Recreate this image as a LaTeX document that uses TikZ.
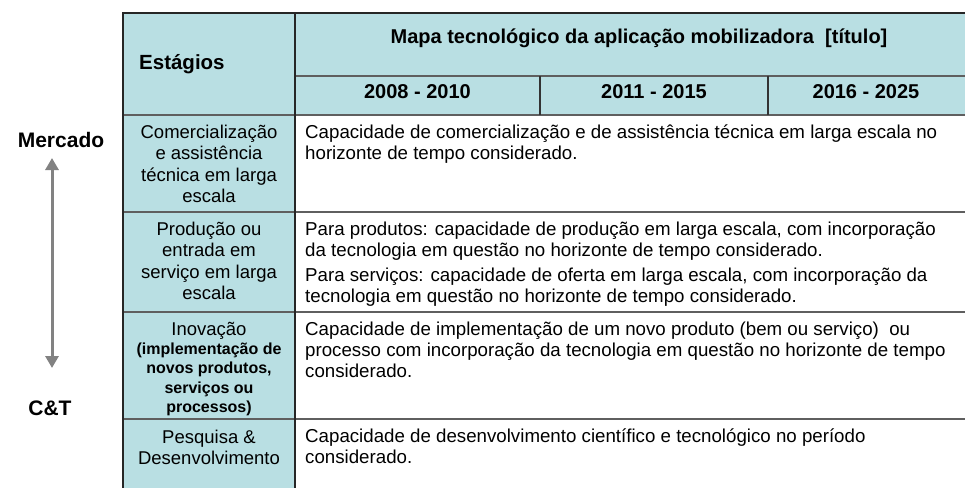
\documentclass[tikz,border=0pt]{standalone}
\usepackage{fontspec}
\setmainfont{Liberation Sans}
\usetikzlibrary{arrows.meta}
\definecolor{stagefill}{RGB}{185,223,227}
\definecolor{rowline}{RGB}{95,95,95}
\definecolor{arrowgray}{RGB}{130,130,130}

\begin{document}
\begin{tikzpicture}[x=1pt,y=-1pt]
    \tikzstyle{every node}=[inner sep=0pt]
    \tikzstyle{head}=[font=\fontsize{20}{24}\selectfont\bfseries, anchor=base]
    \tikzstyle{stage}=[font=\fontsize{18.5}{21.5}\selectfont, align=center, anchor=base]
    \tikzstyle{stage note}=[font=\fontsize{16}{19.3}\selectfont\bfseries, align=center, anchor=base]
    \tikzstyle{body}=[font=\fontsize{18.7}{21}\selectfont, align=left, anchor=base west]
    \tikzstyle{side}=[font=\fontsize{21}{24}\selectfont\bfseries, anchor=base]
    \tikzstyle{rule}=[draw=rowline, line width=1.8pt]
    \tikzstyle{border}=[draw=black!85, line width=1.5pt]

    \useasboundingbox (0,0) rectangle (965,488);

    % Fill the stage column and the header
    \fill[stagefill] (123,13) rectangle (295,488);
    \fill[stagefill] (295,13) rectangle (965,115);

    % Draw the row lines
    \draw[rule] (295,76) -- (965,76);
    \foreach \y in {115,212,312,419}
        \draw[rule] (123,\y) -- (965,\y);

    % Draw the column lines of the periods
    \foreach \x in {540,768}
        \draw[draw=black!80, line width=1.2pt] (\x,76) -- (\x,115);

    % Draw the outer frame
    \draw[border] (965,13) -- (123,13) -- (123,488);
    \draw[border] (295,13) -- (295,488);

    % Header texts
    \node[head, font=\fontsize{20.5}{24}\selectfont\bfseries, anchor=base west] (stages) at (139,69) {Estágios};
    \node[head] (title) at (639,43) {Mapa tecnológico da aplicação mobilizadora~~[título]};
    \foreach \name / \x / \period in {p1/417.5/2008 - 2010, p2/654/2011 - 2015, p3/866/2016 - 2025}
        \node[head] (\name) at (\x,98) {\period};

    % Stage column (a node sits on the baseline of its last line)
    \node[stage] (comerc) at (209,202.5) {Comercialização\\e assistência\\técnica em larga\\escala};
    \node[stage] (prod) at (209,299.5) {Produção ou\\entrada em\\serviço em larga\\escala};
    \node[stage] (inov) at (209,335) {Inovação};
    \node[stage note] (inovnote) at (209,412.5) {(implementação de\\novos produtos,\\serviços ou\\processos)};
    \node[stage] (pd) at (209,464.5) {Pesquisa \&\\Desenvolvimento};

    % Descriptions of the rows
    \node[body] (comercdesc) at (305,159) {Capacidade de comercialização e de assistência técnica em larga escala no\\horizonte de tempo considerado.};
    \node[body] (proddesc) at (305,256) {Para produtos: capacidade de produção em larga escala, com incorporação\\da tecnologia em questão no horizonte de tempo considerado.};
    \node[body] (servdesc) at (305,302) {Para serviços: capacidade de oferta em larga escala, com incorporação da\\tecnologia em questão no horizonte de tempo considerado.};
    \node[body] (inovdesc) at (305,377) {Capacidade de implementação de um novo produto (bem ou serviço)~~ou\\processo com incorporação da tecnologia em questão no horizonte de tempo\\considerado.};
    \node[body] (pddesc) at (305,463) {Capacidade de desenvolvimento científico e tecnológico no período\\considerado.};

    % Market to science axis
    \node[side] (market) at (61,147) {Mercado};
    \node[side] (ct) at (50,415) {C\&T};
    \coordinate (top) at (52,158);
    \coordinate (bottom) at (52,368);
    \draw[arrowgray, line width=3pt, {Triangle[width=13pt,length=12pt]}-{Triangle[width=13pt,length=12pt]}] (bottom) -- (top);
\end{tikzpicture}
\end{document}
